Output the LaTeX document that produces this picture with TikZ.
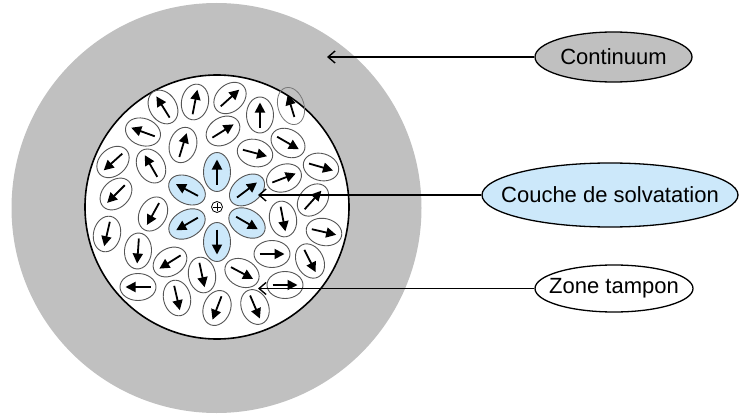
\documentclass[tikz,border=0pt]{standalone}
\usepackage{fontspec}
\setmainfont{Liberation Sans}
\usetikzlibrary{shapes.geometric,arrows.meta,calc}
\definecolor{contgray}{RGB}{192,192,192}
\definecolor{solvblue}{RGB}{204,232,250}
\definecolor{dipoleedge}{RGB}{85,85,85}
\begin{document}
\begin{tikzpicture}[x=1pt,y=1pt,
  dipole/.style={draw=dipoleedge, line width=0.9pt, fill=white},
  solv/.style={draw=dipoleedge, line width=0.9pt, fill=solvblue},
  dipolearrow/.style={line width=1.8pt, -{Triangle[length=10pt,width=10pt]}},
  labelbox/.style={ellipse, draw, line width=1.3pt, inner sep=0pt},
  labeltext/.style={font=\fontsize{22}{24}\selectfont, inner sep=0pt},
  connector/.style={line width=1.4pt, {Straight Barb[length=7pt,width=12pt]}-}]
\useasboundingbox (0,0) rectangle (739,416);
% continuum
\fill[contgray] (216.5,208) circle [radius=205];
% buffer zone
\node[circle, draw, line width=1.6pt, fill=white, minimum size=264, inner sep=0pt] (zonedisk) at (217,209) {};
% solvent dipoles of the buffer zone
\foreach \x/\y/\a in {163/107/122, 195/102/79, 230/98/42, 260/115/90,
  143/132/160, 183/145/73, 223/131/32, 255/153/-15, 288/143/-30, 321/167/-16,
  113/162/222, 151/166/120, 284/178/21, 116/194/225, 313/200/48,
  153/214/241, 283/219/281, 107/234/257, 324/232/-13, 138/251/266,
  272/254/0, 310/261/-63, 170/262/212, 202/275/282, 242/273/-28,
  138/287/180, 285/285/0, 177/298/283, 217/308/249, 255/307/293}{
  \coordinate (d) at (\x,{416-\y});
  \draw[dipole, rotate around={\a:(d)}] (d) ellipse [x radius=18, y radius=13.5];
  \draw[dipolearrow] ($(d)+({\a+180}:12.5)$) -- ($(d)+(\a:12.5)$);
}
% dipole crossing the edge
\coordinate (dedge) at (291,310);
\draw[draw=dipoleedge!80, line width=0.8pt, rotate around={107:(dedge)}] (dedge) ellipse [x radius=19, y radius=13];
\draw[dipolearrow] ($(dedge)+(287:11.5)$) -- ($(dedge)+(107:11.5)$);
% solvation shell
\foreach \x/\y/\a in {217/172/90, 187/190/152, 247/190/37, 187/224/210, 247/223/-30, 217/242/270}{
  \coordinate (s) at (\x,{416-\y});
  \draw[solv, rotate around={\a:(s)}] (s) ellipse [x radius=19.5, y radius=13.5];
  \draw[dipolearrow] ($(s)+({\a+180}:12.5)$) -- ($(s)+(\a:12.5)$);
}
% ion
\node[circle, draw, line width=0.8pt, minimum size=11, inner sep=0pt] (ion) at (217,209) {};
\draw[line width=0.8pt] ($(ion)+(-4,0)$) -- ($(ion)+(4,0)$);
\draw[line width=0.8pt] ($(ion)+(0,-4)$) -- ($(ion)+(0,4)$);
% labels
\node[labelbox, fill=contgray, minimum width=157, minimum height=50] (cont) at (613.5,359) {};
\node[labeltext] at (cont) {Continuum};
\node[labelbox, fill=solvblue, minimum width=256, minimum height=64] (couche) at (610,221) {};
\node[labeltext] at (couche) {Couche de solvatation};
\node[labelbox, fill=white, minimum width=158, minimum height=47] (tampon) at (614,127.5) {};
\node[labeltext] at (tampon) {Zone tampon};
% connectors
\coordinate (tipcont) at (327,359);
\coordinate (tipcouche) at (258,221);
\coordinate (tiptampon) at (258,127.5);
\draw[connector] (tipcont) -- (cont.west);
\draw[connector] (tipcouche) -- (couche.west);
\draw[connector] (tiptampon) -- (tampon.west);
\end{tikzpicture}
\end{document}
